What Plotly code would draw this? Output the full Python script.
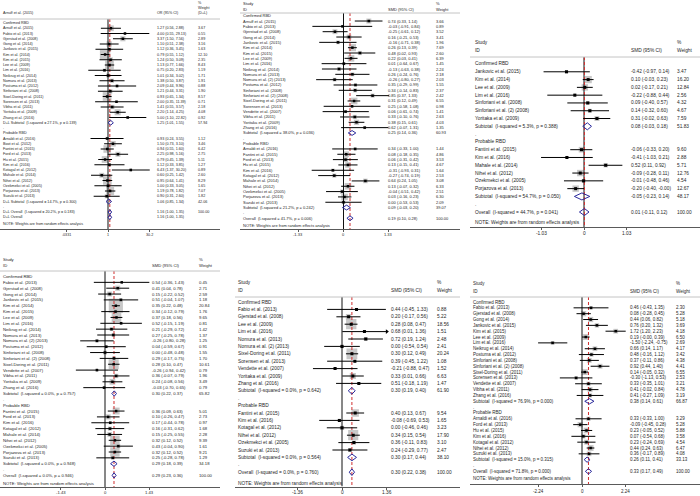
import math
import plotly.graph_objects as go

W, H = 700, 496
FONT = "Liberation Sans, Arial, Helvetica, sans-serif"
TXT = "#262626"
BOX = "#b0b0b0"
RED = "#d03030"
BLUE = "#2a2a9c"

# ======================= DATA =======================
# ---- Panel A : odds ratios (D+L) ----
A_conf_study = ["Arnulf et al. (2015)", "Fabio et al. (2013)", "Gjerstad et al. (2008)", "Gong et al. (2014)",
                "Jankovic et al. (2015)", "Kim et al. (2014)", "Kim et al. (2015)", "Lee et al. (2009)",
                "Lim et al. (2016)", "Neikrug et al. (2014)", "Nomura et al. (2013)", "Postuma et al. (2012)",
                "Sinforiani et al. (2008)", "Sixel-Doring et al. (2011)", "Sorensen et al. (2013)",
                "Vibha et al. (2011)", "Yoritaka et al. (2009)", "Zhang et al. (2016)"]
A_conf_est = [1.27, 4.00, 3.37, 1.10, 1.12, 0.79, 1.24, 1.13, 0.75, 1.01, 1.38, 2.09, 1.21, 0.93, 2.00, 1.41, 2.20, 5.00]
A_conf_lo = [0.56, 0.55, 1.50, 0.51, 0.36, 0.55, 0.50, 0.77, 0.20, 0.34, 0.50, 0.44, 0.44, 0.65, 0.35, 0.55, 1.14, 1.10]
A_conf_hi = [2.88, 29.13, 7.56, 2.38, 3.45, 1.12, 3.09, 1.66, 2.83, 3.02, 3.87, 9.96, 3.31, 1.34, 11.39, 3.57, 4.25, 22.82]
A_conf_wt = [3.67, 0.55, 2.89, 3.16, 1.63, 12.10, 2.35, 8.43, 1.19, 1.71, 1.91, 0.88, 1.90, 8.57, 0.71, 2.18, 4.08, 0.92]
A_prob_study = ["Arnaldi et al. (2016)", "Boot et al. (2012)", "Fantini et al. (2015)", "Ford et al. (2013)",
                "Hu et al. (2015)", "Kim et al. (2016)", "Kotagal et al. (2012)", "Mahale et al. (2014)",
                "Nihei et al. (2012)", "Ozekmekci et al. (2005)", "Porjazova et al. (2013)", "Suzuki et al. (2013)"]
A_prob_est = [0.93, 1.50, 0.94, 2.25, 0.79, 1.12, 6.43, 0.60, 0.95, 1.00, 1.19, 0.90]
A_prob_lo = [0.24, 0.73, 0.55, 0.98, 0.45, 0.33, 1.37, 0.25, 0.64, 0.33, 0.78, 0.31]
A_prob_hi = [3.55, 3.10, 1.60, 5.16, 1.39, 3.85, 30.20, 1.42, 1.41, 3.05, 1.82, 2.60]
A_prob_wt = [1.12, 3.46, 6.42, 2.75, 5.11, 1.27, 0.89, 2.60, 8.29, 1.65, 7.07, 1.82]
A_sub_est = [1.25, 1.06]
A_sub_lo = [1.01, 0.85]
A_sub_hi = [1.55, 1.34]
A_sub_wt = [57.94, 42.06]
A_sub_i2 = [27.1, 14.7]
A_sub_p = [0.139, 0.300]
A_overall = [1.16, 1.00, 1.35]
A_overall_i2, A_overall_p = 20.2, 0.183
A_ticks = [0.0331, 1, 30.2]
A_ticklabels = [".0331", "1", "30.2"]

# ---- Panel B : SMD ----
B_conf_study = ["Arnulf et al. (2015)", "Fabio et al. (2013)", "Gjerstad et al. (2008)", "Gong et al. (2014)",
                "Jankovic et al. (2015)", "Kim et al. (2014)", "Kim et al. (2015)", "Lee et al. (2009)",
                "Lim et al. (2016)", "Neikrug et al. (2014)", "Nomura et al. (2013)", "Nomura et al. (2) (2013)",
                "Postuma et al. (2012)", "Sinforiani et al. (2008)", "Sinforiani et al. (2) (2008)",
                "Sixel-Doring et al. (2011)", "Sorensen et al. (2013)", "Vendette et al. (2007)",
                "Vibha et al. (2011)", "Yoritaka et al. (2009)", "Zhang et al. (2016)"]
B_conf_est = [0.74, -0.03, -0.25, 0.16, -0.16, 0.26, 0.48, 0.22, 0.01, -0.13, 0.26, -0.26, 0.35, 0.34, 0.85, 0.31, 0.25, 0.06, 0.33, 0.38, 0.62]
B_conf_lo = [0.33, -0.91, -0.61, -0.21, -0.71, 0.13, 0.02, 0.03, -0.64, -0.63, -0.24, -0.80, -0.29, -0.14, 0.37, 0.12, -0.58, -0.61, -0.10, 0.15, -0.07]
B_conf_hi = [1.14, 0.84, 0.12, 0.53, 0.38, 0.39, 0.93, 0.41, 0.67, 0.38, 0.76, 0.27, 0.99, 0.83, 1.33, 0.49, 1.08, 0.74, 0.76, 0.61, 1.31]
B_conf_wt = [3.66, 0.89, 3.52, 3.41, 1.96, 7.69, 2.60, 6.39, 1.45, 2.24, 2.18, 2.03, 1.55, 2.37, 2.42, 6.55, 0.98, 1.41, 2.63, 4.03, 1.35]
B_prob_study = ["Arnaldi et al. (2016)", "Fantini et al. (2015)", "Ford et al. (2013)", "Hu et al. (2015)",
                "Kim et al. (2016)", "Kotagal et al. (2012)", "Mahale et al. (2014)", "Nihei et al. (2012)",
                "Ozekmekci et al. (2005)", "Porjazova et al. (2013)", "Suzuki et al. (2013)"]
B_prob_est = [0.34, 0.08, 0.06, 0.13, -0.31, -0.27, 0.64, 0.13, -0.04, 0.03, 0.00]
B_prob_lo = [-0.33, -0.18, -0.31, -0.15, -0.93, -0.74, 0.24, -0.07, -0.51, -0.16, -0.53]
B_prob_hi = [1.00, 0.35, 0.42, 0.41, 0.31, 0.19, 1.05, 0.32, 0.42, 0.23, 0.53]
B_prob_wt = [1.44, 4.86, 3.53, 4.67, 1.64, 2.53, 3.08, 6.33, 2.51, 6.30, 2.09]
B_sub_est = [0.25, 0.09]
B_sub_lo = [0.14, -0.03]
B_sub_hi = [0.36, 0.20]
B_sub_wt = [60.93, 39.07]
B_sub_i2 = [38.0, 21.2]
B_sub_p = [0.036, 0.242]
B_overall = [0.19, 0.10, 0.28]
B_overall_i2, B_overall_p = 41.7, 0.006
B_ticks = [-1.33, 0, 1.33]
B_ticklabels = ["-1.33", "0", "1.33"]

# ---- Panel C : SMD ----
C_conf_study = ["Jankovic et al. (2015)", "Kim et al. (2014)", "Lee et al. (2009)", "Lim et al. (2016)",
                "Sinforiani et al. (2008)", "Sinforiani et al. (2) (2008)", "Yoritaka et al. (2009)"]
C_conf_est = [-0.42, 0.10, 0.02, -0.22, 0.09, 0.14, 0.31]
C_conf_lo = [-0.97, -0.03, -0.17, -0.88, -0.40, -0.32, -0.02]
C_conf_hi = [0.14, 0.23, 0.21, 0.44, 0.57, 0.60, 0.63]
C_conf_wt = [3.47, 16.20, 12.84, 2.56, 4.32, 4.67, 7.59]
C_prob_study = ["Fantini et al. (2015)", "Kim et al. (2016)", "Mahale et al. (2014)", "Nihei et al. (2012)",
                "Ozekmekci et al. (2005)", "Porjazova et al. (2013)"]
C_prob_est = [-0.06, -0.41, 0.52, -0.09, -0.01, -0.20]
C_prob_lo = [-0.33, -1.03, 0.11, -0.28, -0.48, -0.40]
C_prob_hi = [0.20, 0.21, 0.92, 0.11, 0.46, -0.0]
C_prob_wt = [9.60, 2.88, 5.71, 12.76, 4.54, 12.67]
C_sub_est = [0.08, -0.05]
C_sub_lo = [-0.03, -0.23]
C_sub_hi = [0.18, 0.14]
C_sub_wt = [51.83, 48.17]
C_sub_i2 = [5.3, 54.7]
C_sub_p = [0.388, 0.050]
C_overall = [0.01, -0.11, 0.12]
C_overall_i2, C_overall_p = 44.7, 0.041
C_ticks = [-1.03, 0, 1.03]
C_ticklabels = ["-1.03", "0", "1.03"]

# ---- Panel D : SMD ----
D_conf_study = ["Fabio et al. (2013)", "Gjerstad et al. (2008)", "Gong et al. (2014)", "Jankovic et al. (2015)",
                "Kim et al. (2014)", "Kim et al. (2015)", "Lee et al. (2009)", "Lim et al. (2016)",
                "Neikrug et al. (2014)", "Nomura et al. (2013)", "Nomura et al. (2) (2013)", "Postuma et al. (2012)",
                "Sinforiani et al. (2008)", "Sinforiani et al. (2) (2008)", "Sixel-Doring et al. (2011)",
                "Vendette et al. (2007)", "Vibha et al. (2011)", "Yoritaka et al. (2009)", "Zhang et al. (2016)"]
D_conf_est = [0.54, 0.41, 0.15, 0.51, 0.35, 0.34, 0.37, 0.52, 0.21, 0.27, -0.26, 0.04, 0.00, 0.29, 0.28, -0.26, 0.36, 0.24, -0.03]
D_conf_lo = [-0.36, 0.04, -0.22, -0.04, 0.22, -0.12, 0.18, -0.15, -0.29, -0.25, -0.80, -0.59, -0.48, -0.17, 0.10, -0.94, -0.07, -0.08, -0.70]
D_conf_hi = [1.43, 0.78, 0.52, 1.07, 0.48, 0.79, 0.56, 1.19, 0.72, 0.78, 0.28, 0.67, 0.48, 0.75, 0.47, 0.42, 0.79, 0.56, 0.65]
D_conf_wt = [0.45, 2.71, 2.59, 1.18, 20.84, 1.76, 9.65, 0.81, 1.42, 1.37, 1.25, 0.91, 1.55, 1.70, 10.61, 0.79, 1.96, 3.49, 0.79]
D_prob_study = ["Fantini et al. (2015)", "Ford et al. (2013)", "Kim et al. (2016)", "Kotagal et al. (2012)",
                "Mahale et al. (2014)", "Nihei et al. (2012)", "Ozekmekci et al. (2005)", "Porjazova et al. (2013)",
                "Suzuki et al. (2013)"]
D_prob_est = [0.36, 0.10, 0.17, 0.16, 0.15, 0.32, 0.43, 0.32, 0.25]
D_prob_lo = [0.09, -0.26, -0.44, -0.31, -0.25, 0.12, -0.04, 0.12, -0.28]
D_prob_hi = [0.63, 0.47, 0.78, 0.62, 0.55, 0.52, 0.90, 0.52, 0.78]
D_prob_wt = [5.01, 2.73, 0.97, 1.68, 2.28, 9.39, 1.61, 9.21, 1.29]
D_sub_est = [0.30, 0.29]
D_sub_lo = [0.22, 0.18]
D_sub_hi = [0.37, 0.39]
D_sub_wt = [65.82, 34.18]
D_sub_i2 = [0.0, 0.0]
D_sub_p = [0.757, 0.948]
D_overall = [0.29, 0.23, 0.36]
D_overall_i2, D_overall_p = 0.0, 0.946
D_ticks = [-1.43, 0, 1.43]
D_ticklabels = ["-1.43", "0", "1.43"]

# ---- Panel E : SMD ----
E_conf_study = ["Fabio et al. (2013)", "Gjerstad et al. (2008)", "Lee et al. (2009)", "Lim et al. (2016)",
                "Nomura et al. (2013)", "Nomura et al. (2) (2013)", "Sixel-Doring et al. (2011)",
                "Sorensen et al. (2013)", "Vendette et al. (2007)", "Yoritaka et al. (2009)", "Zhang et al. (2016)"]
E_conf_est = [0.44, 0.20, 0.28, 0.68, 0.72, 0.00, 0.30, 0.39, -0.21, 0.33, 0.51]
E_conf_lo = [-0.45, -0.17, 0.08, 0.01, 0.19, -0.54, 0.12, -0.45, -0.88, 0.01, -0.18]
E_conf_hi = [1.33, 0.56, 0.47, 1.36, 1.24, 0.54, 0.49, 1.22, 0.47, 0.66, 1.19]
E_conf_wt = [0.88, 5.22, 18.56, 1.51, 2.48, 2.41, 20.24, 1.08, 1.52, 6.63, 1.47]
E_prob_study = ["Fantini et al. (2015)", "Kim et al. (2016)", "Kotagal et al. (2012)", "Nihei et al. (2012)",
                "Ozekmekci et al. (2005)", "Suzuki et al. (2013)"]
E_prob_est = [0.40, -0.08, 0.00, 0.34, 0.36, 0.24]
E_prob_lo = [0.13, -0.69, -0.46, 0.15, -0.11, -0.29]
E_prob_hi = [0.67, 0.53, 0.46, 0.54, 0.83, 0.77]
E_prob_wt = [9.54, 1.65, 3.23, 17.90, 3.10, 2.47]
E_sub_est = [0.30, 0.30]
E_sub_lo = [0.19, 0.17]
E_sub_hi = [0.40, 0.44]
E_sub_wt = [61.90, 38.10]
E_sub_i2 = [0.0, 0.0]
E_sub_p = [0.642, 0.564]
E_overall = [0.30, 0.22, 0.38]
E_overall_i2, E_overall_p = 0.0, 0.760
E_ticks = [-1.36, 0, 1.36]
E_ticklabels = ["-1.36", "0", "1.36"]
E_arrows = ["Lim et al. (2016)"]

# ---- Panel F : SMD ----
F_conf_study = ["Fabio et al. (2013)", "Gjerstad et al. (2008)", "Gong et al. (2014)", "Jankovic et al. (2015)",
                "Kim et al. (2015)", "Lee et al. (2009)", "Lim et al. (2016)", "Neikrug et al. (2014)",
                "Postuma et al. (2012)", "Sinforiani et al. (2008)", "Sinforiani et al. (2) (2008)",
                "Sixel-Doring et al. (2011)", "Sorensen et al. (2013)", "Vendette et al. (2007)",
                "Vibha et al. (2011)", "Zhang et al. (2016)"]
F_conf_est = [0.46, 0.08, 0.44, 0.76, 1.72, 0.19, -1.50, 0.66, 0.48, 0.37, 0.92, 0.14, -0.30, 0.33, 0.41, 0.41]
F_conf_lo = [-0.43, -0.28, 0.06, 0.20, 1.20, -0.0, -2.24, 0.14, -0.16, -0.11, 0.44, -0.05, -1.13, -0.35, -0.02, -0.27]
F_conf_hi = [1.35, 0.45, 0.82, 1.32, 2.23, 0.39, -0.75, 1.17, 1.12, 0.86, 1.40, 0.32, 0.53, 1.01, 0.84, 1.09]
F_conf_wt = [2.30, 5.28, 5.18, 3.69, 4.18, 6.50, 2.69, 4.17, 3.42, 4.38, 4.41, 6.55, 2.53, 3.21, 4.78, 3.19]
F_prob_study = ["Arnaldi et al. (2016)", "Ford et al. (2013)", "Hu et al. (2015)", "Kim et al. (2016)",
                "Kotagal et al. (2012)", "Nihei et al. (2012)", "Suzuki et al. (2013)"]
F_prob_est = [0.33, -0.09, 0.23, 0.07, 0.23, 0.44, 0.36]
F_prob_lo = [-0.33, -0.45, -0.05, -0.54, -0.24, 0.24, -0.17]
F_prob_hi = [1.00, 0.28, 0.52, 0.68, 0.69, 0.63, 0.89]
F_prob_wt = [3.29, 5.28, 5.88, 3.58, 4.54, 6.47, 4.08]
F_sub_est = [0.38, 0.26]
F_sub_lo = [0.14, 0.11]
F_sub_hi = [0.61, 0.41]
F_sub_wt = [66.87, 33.13]
F_sub_i2 = [76.9, 15.0]
F_sub_p = [0.000, 0.315]
F_overall = [0.33, 0.17, 0.49]
F_overall_i2, F_overall_p = 71.8, 0.000
F_ticks = [-2.24, 0, 2.24]
F_ticklabels = ["-2.24", "0", "2.24"]

PANELS = [
    dict(conf=(A_conf_study, A_conf_est, A_conf_lo, A_conf_hi, A_conf_wt),
         prob=(A_prob_study, A_prob_est, A_prob_lo, A_prob_hi, A_prob_wt),
         sub=(A_sub_est, A_sub_lo, A_sub_hi, A_sub_wt, A_sub_i2, A_sub_p),
         ov=A_overall, ov_i2=A_overall_i2, ov_p=A_overall_p, prefix="D+L ", extra=True,
         ticks=A_ticks, ticklabels=A_ticklabels, arrows=[]),
    dict(conf=(B_conf_study, B_conf_est, B_conf_lo, B_conf_hi, B_conf_wt),
         prob=(B_prob_study, B_prob_est, B_prob_lo, B_prob_hi, B_prob_wt),
         sub=(B_sub_est, B_sub_lo, B_sub_hi, B_sub_wt, B_sub_i2, B_sub_p),
         ov=B_overall, ov_i2=B_overall_i2, ov_p=B_overall_p, prefix="", extra=False,
         ticks=B_ticks, ticklabels=B_ticklabels, arrows=[]),
    dict(conf=(C_conf_study, C_conf_est, C_conf_lo, C_conf_hi, C_conf_wt),
         prob=(C_prob_study, C_prob_est, C_prob_lo, C_prob_hi, C_prob_wt),
         sub=(C_sub_est, C_sub_lo, C_sub_hi, C_sub_wt, C_sub_i2, C_sub_p),
         ov=C_overall, ov_i2=C_overall_i2, ov_p=C_overall_p, prefix="", extra=False,
         ticks=C_ticks, ticklabels=C_ticklabels, arrows=[]),
    dict(conf=(D_conf_study, D_conf_est, D_conf_lo, D_conf_hi, D_conf_wt),
         prob=(D_prob_study, D_prob_est, D_prob_lo, D_prob_hi, D_prob_wt),
         sub=(D_sub_est, D_sub_lo, D_sub_hi, D_sub_wt, D_sub_i2, D_sub_p),
         ov=D_overall, ov_i2=D_overall_i2, ov_p=D_overall_p, prefix="", extra=False,
         ticks=D_ticks, ticklabels=D_ticklabels, arrows=[]),
    dict(conf=(E_conf_study, E_conf_est, E_conf_lo, E_conf_hi, E_conf_wt),
         prob=(E_prob_study, E_prob_est, E_prob_lo, E_prob_hi, E_prob_wt),
         sub=(E_sub_est, E_sub_lo, E_sub_hi, E_sub_wt, E_sub_i2, E_sub_p),
         ov=E_overall, ov_i2=E_overall_i2, ov_p=E_overall_p, prefix="", extra=False,
         ticks=E_ticks, ticklabels=E_ticklabels, arrows=E_arrows),
    dict(conf=(F_conf_study, F_conf_est, F_conf_lo, F_conf_hi, F_conf_wt),
         prob=(F_prob_study, F_prob_est, F_prob_lo, F_prob_hi, F_prob_wt),
         sub=(F_sub_est, F_sub_lo, F_sub_hi, F_sub_wt, F_sub_i2, F_sub_p),
         ov=F_overall, ov_i2=F_overall_i2, ov_p=F_overall_p, prefix="", extra=False,
         ticks=F_ticks, ticklabels=F_ticklabels, arrows=[]),
]

# ======================= LAYOUT (pixels) =======================
CFG = [
    dict(x0=0, x1=220, null_px=108.0, ppu=28.2, log=True, top=19, bottom=229, tick_y=234.5, row0=23.0, dy=5.25,
         fs=3.7, pt=2.5, c_lab=3, c_est=157, c_wt=198, k=3.0, note_off=0.3,
         headers=[(3, 13, "Arnulf et al. (2015)"), (157, 13, "OR (95% CI)"), (198, 3, "%"),
                  (198, 8, "Weight"), (198, 13, "(D+L)")]),
    dict(x0=240, x1=460, null_px=343.5, ppu=34.2, log=False, top=13, bottom=229, tick_y=234.5, row0=15.7, dy=5.33,
         fs=4.0, pt=2.5, c_lab=243, c_est=388, c_wt=436, k=2.6, note_off=0.3,
         headers=[(243, 3, "Study"), (243, 9, "ID"), (388, 9, "SMD (95% CI)"), (436, 3, "%"), (436, 9, "Weight")]),
    dict(x0=470, x1=700, null_px=584.0, ppu=41.7, log=False, top=57, bottom=227, tick_y=233.5, row0=64.0, dy=7.79,
         fs=4.8, pt=3.0, c_lab=475, c_est=631, c_wt=677, k=1.8, note_off=0.3,
         headers=[(475, 42, "Study"), (475, 50, "ID"), (631, 50, "SMD (95% CI)"), (677, 42, "%"), (677, 50, "Weight")]),
    dict(x0=0, x1=220, null_px=105.0, ppu=31.0, log=False, top=271, bottom=487, tick_y=492.5, row0=276.5, dy=5.85,
         fs=4.2, pt=2.5, c_lab=3, c_est=152, c_wt=199, k=3.1, note_off=0.3,
         headers=[(3, 259, "Study"), (3, 265, "ID"), (152, 265, "SMD (95% CI)"), (199, 259, "%"), (199, 265, "Weight")]),
    dict(x0=235, x1=460, null_px=342.0, ppu=33.0, log=False, top=297, bottom=486.5, tick_y=492.0, row0=302.0, dy=7.4,
         fs=4.8, pt=3.0, c_lab=238, c_est=391, c_wt=437, k=2.4, note_off=0.5,
         headers=[(238, 282, "Study"), (238, 290, "ID"), (391, 290, "SMD (95% CI)"), (437, 282, "%"), (437, 290, "Weight")]),
    dict(x0=470, x1=700, null_px=582.0, ppu=19.6, log=False, top=297, bottom=484, tick_y=491.0, row0=302.0, dy=5.84,
         fs=4.5, pt=2.5, c_lab=473, c_est=630, c_wt=676, k=2.3, note_off=0.3,
         headers=[(473, 283, "Study"), (473, 291, "ID"), (630, 291, "SMD (95% CI)"), (676, 283, "%"), (676, 291, "Weight")]),
]


def build_rows(P):
    rows = []

    def add(kind, label, est=None, lo=None, hi=None, wt=None):
        rows.append(dict(kind=kind, label=label, est=est, lo=lo, hi=hi, wt=wt, i=len(rows)))

    s_est, s_lo, s_hi, s_wt, s_i2, s_p = P["sub"]
    for g, (grp_name, grp) in enumerate((("Confirmed RBD", P["conf"]), ("Probable RBD", P["prob"]))):
        add("group", grp_name)
        for nm, e, l, h, w in zip(*grp):
            add("study", nm, e, l, h, w)
        add("sub", f"{P['prefix']}Subtotal  (I-squared = {s_i2[g]:.1f}%, p = {s_p[g]:.3f})",
            s_est[g], s_lo[g], s_hi[g], s_wt[g])
        add("dot", ".")
    e, l, h = P["ov"]
    add("overall", f"{P['prefix']}Overall  (I-squared = {P['ov_i2']:.1f}%, p = {P['ov_p']:.3f})", e, l, h, 100.00)
    if P["extra"]:
        add("overall", "D+L Overall", e, l, h, None)
    return rows


fig = go.Figure()
ann, shp, lay = [], [], {}

for n, (P, C) in enumerate(zip(PANELS, CFG), start=1):
    sfx = "" if n == 1 else str(n)
    xref, yref = "x" + sfx, "y" + sfx
    rows = build_rows(P)
    r_top = (C["top"] - C["row0"]) / C["dy"]
    r_bot = (C["bottom"] - C["row0"]) / C["dy"]
    xr = [(C["x0"] - C["null_px"]) / C["ppu"], (C["x1"] - C["null_px"]) / C["ppu"]]
    fs = C["fs"]
    tf = dict(size=fs, color=TXT, family=FONT)

    lay["xaxis" + sfx] = dict(domain=[C["x0"] / W, C["x1"] / W], range=xr,
                              type="log" if C["log"] else "linear", anchor=yref,
                              showline=True, linecolor="#5a5a5a", linewidth=1, ticks="outside", ticklen=2,
                              tickwidth=1, tickcolor="#5a5a5a", tickvals=P["ticks"], showticklabels=False,
                              showgrid=False, zeroline=False, fixedrange=True)
    lay["yaxis" + sfx] = dict(domain=[1 - C["bottom"] / H, 1 - C["top"] / H], range=[r_bot, r_top],
                              anchor=xref, visible=False, fixedrange=True)

    common = dict(xaxis=xref, yaxis=yref, hoverinfo="skip", showlegend=False)
    st = [r for r in rows if r["kind"] == "study"]
    # weight boxes
    fig.add_trace(go.Scatter(x=[r["est"] for r in st], y=[r["i"] for r in st], mode="markers",
                             marker=dict(symbol="square", color=BOX, line=dict(width=0),
                                         size=[C["k"] * math.sqrt(r["wt"]) for r in st]), **common))
    # null line and overall line
    null = 1 if C["log"] else 0
    fig.add_trace(go.Scatter(x=[null, null], y=[r_top, r_bot], mode="lines",
                             line=dict(color="#111111", width=1), **common))
    ov = P["ov"][0]
    fig.add_trace(go.Scatter(x=[ov, ov], y=[r_top, r_bot], mode="lines",
                             line=dict(color=RED, width=1, dash="3px,2px"), **common))
    # CI lines
    cx, cy = [], []
    for r in st:
        cx += [r["lo"], r["hi"], None]
        cy += [r["i"], r["i"], None]
    fig.add_trace(go.Scatter(x=cx, y=cy, mode="lines", line=dict(color="black", width=1), **common))
    # point estimates
    fig.add_trace(go.Scatter(x=[r["est"] for r in st], y=[r["i"] for r in st], mode="markers",
                             marker=dict(symbol="square", color="black", size=C["pt"], line=dict(width=0)),
                             **common))
    # arrows (CI beyond axis)
    ar = [r for r in st if r["label"] in P["arrows"]]
    if ar:
        fig.add_trace(go.Scatter(x=[r["hi"] for r in ar], y=[r["i"] for r in ar], mode="markers",
                                 marker=dict(symbol="triangle-right", color="black", size=4, line=dict(width=0)),
                                 **common))
    # diamonds
    dx, dyy = [], []
    hh = 0.45
    for r in rows:
        if r["kind"] in ("sub", "overall"):
            dx += [r["lo"], r["est"], r["hi"], r["est"], r["lo"], None]
            dyy += [r["i"], r["i"] - hh, r["i"], r["i"] + hh, r["i"], None]
    fig.add_trace(go.Scatter(x=dx, y=dyy, mode="lines", line=dict(color=BLUE, width=1), **common))

    # text columns
    def t(xpx, y, text, yr=yref):
        ann.append(dict(x=xpx / W, xref="paper", y=y, yref=yr, text=text, showarrow=False,
                        xanchor="left", yanchor="middle", font=tf, borderpad=0, borderwidth=0))

    for r in rows:
        t(C["c_lab"], r["i"], r["label"])
        if r["est"] is not None:
            t(C["c_est"], r["i"], f"{r['est']:.2f} ({r['lo']:.2f}, {r['hi']:.2f})")
        if r["wt"] is not None:
            t(C["c_wt"], r["i"], f"{r['wt']:.2f}")
    t(C["c_lab"], len(rows) + C["note_off"], "NOTE: Weights are from random effects analysis")
    for hx, hy, htxt in C["headers"]:
        t(hx, 1 - hy / H, htxt, yr="paper")
    # tick labels placed on the axis scale
    for tv, tl in zip(P["ticks"], P["ticklabels"]):
        ann.append(dict(x=math.log10(tv) if C["log"] else tv, xref=xref, y=1 - C["tick_y"] / H, yref="paper",
                        text=tl, showarrow=False, xanchor="center", yanchor="middle", font=tf,
                        borderpad=0, borderwidth=0))
    shp.append(dict(type="line", xref="paper", yref="paper", x0=C["x0"] / W, x1=C["x1"] / W,
                    y0=1 - C["top"] / H, y1=1 - C["top"] / H, line=dict(color="#c4c4c4", width=1)))

fig.update_layout(width=W, height=H, margin=dict(l=0, r=0, t=0, b=0), paper_bgcolor="white",
                  plot_bgcolor="white", annotations=ann, shapes=shp, font=dict(family=FONT, color=TXT),
                  **lay)
fig.write_html("out.html", config={"displayModeBar": False, "staticPlot": True},
               post_script="document.body.style.margin='0px';")
